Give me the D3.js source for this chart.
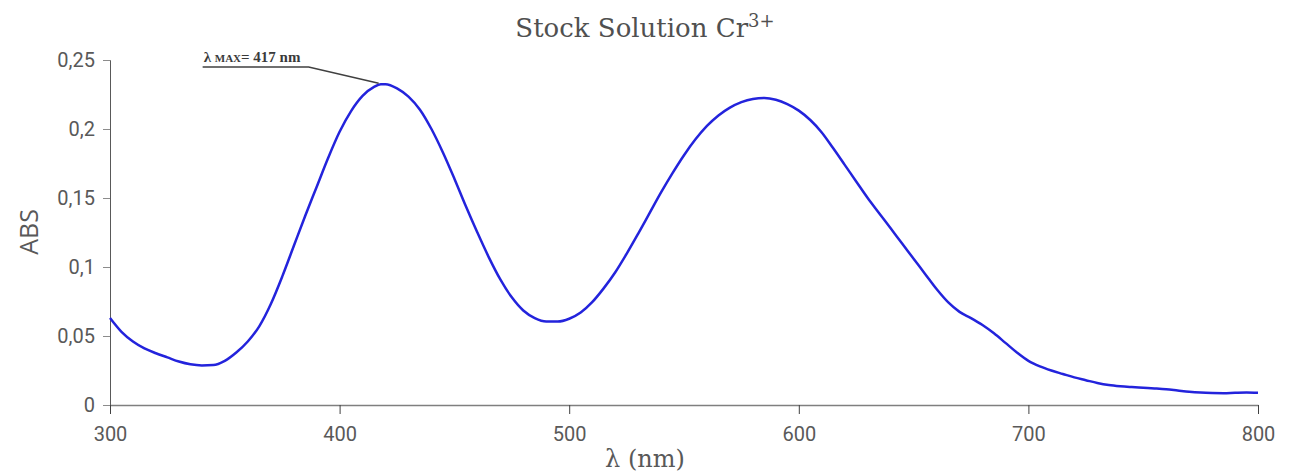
<!DOCTYPE html>
<html>
<head>
<meta charset="utf-8">
<script src="https://cdn.jsdelivr.net/npm/d3@7"></script>
<style>
  body { margin: 0; background: #fff; }
</style>
</head>
<body>
<div class="chart"></div>
<script>
// wavelength (nm) / absorbance
let wavelengths = [300, 305, 310, 315, 320, 325, 330, 335, 340, 345, 350, 355, 360, 365, 370, 375,
  380, 385, 390, 395, 400, 405, 410, 415, 418, 420, 425, 430, 435, 440, 445, 450, 455, 460, 465,
  470, 475, 480, 485, 490, 495, 500, 505, 510, 515, 520, 525, 530, 535, 540, 545, 550, 555, 560,
  565, 570, 575, 580, 585, 590, 595, 600, 605, 610, 615, 620, 625, 630, 635, 640, 645, 650, 655,
  660, 665, 670, 675, 680, 685, 690, 695, 700, 705, 710, 715, 720, 725, 730, 735, 740, 745, 750,
  755, 760, 765, 770, 775, 780, 785, 790, 795, 800];
let absorbance = [0.063, 0.053, 0.046, 0.041, 0.0375, 0.0345, 0.0315, 0.0295, 0.0287, 0.0289, 0.032,
  0.038, 0.046, 0.057, 0.073, 0.093, 0.115, 0.137, 0.158, 0.179, 0.198, 0.213, 0.224, 0.2305, 0.2325,
  0.2325, 0.2295, 0.2235, 0.214, 0.200, 0.183, 0.164, 0.144, 0.125, 0.107, 0.091, 0.078, 0.0685, 0.063,
  0.0605, 0.0605, 0.0625, 0.067, 0.0745, 0.0845, 0.096, 0.1095, 0.124, 0.139, 0.154, 0.168, 0.181, 0.1925,
  0.2022, 0.2098, 0.2155, 0.2195, 0.2218, 0.2225, 0.2212, 0.218, 0.2133, 0.2065, 0.1975, 0.186, 0.174,
  0.162, 0.150, 0.139, 0.128, 0.117, 0.106, 0.095, 0.084, 0.0745, 0.0675, 0.063, 0.058, 0.052, 0.045,
  0.038, 0.032, 0.028, 0.025, 0.0225, 0.020, 0.018, 0.016, 0.0145, 0.0136, 0.013, 0.0125, 0.012,
  0.0114, 0.0105, 0.0096, 0.009, 0.0087, 0.0086, 0.0089, 0.0091, 0.0089];

let xTicks = [300, 400, 500, 600, 700, 800];
let yTicks = [0, 0.05, 0.1, 0.15, 0.2, 0.25];
let lambdaMax = 417;

var margin = {top: 60, right: 32, bottom: 69, left: 110};
var width = 1290 - margin.left - margin.right;
var height = 474 - margin.top - margin.bottom;

var comma = d3.formatLocale({decimal: ',', thousands: '.', grouping: [3], currency: ['', '']});

let svg = d3.select('.chart')
  .append('svg')
  .attr('width', 1290)
  .attr('height', 474);

let g = svg.append('g')
  .attr('transform', `translate(${margin.left}, ${margin.top})`);

let xScale = d3.scaleLinear()
  .domain([300, 800])
  .range([0, width]);

let yScale = d3.scaleLinear()
  .domain([0, 0.25])
  .range([height, 0]);

// y axis
let yAxis = g.append('g')
  .call(d3.axisLeft(yScale).tickValues(yTicks).tickSize(7).tickPadding(8)
    .tickFormat(d => d === 0 ? '0' : comma.format('~g')(d)));
yAxis.select('.domain').attr('stroke', '#595959');
yAxis.selectAll('.tick line').attr('stroke', '#8c8c8c');
yAxis.selectAll('text')
  .style('font-family', 'Roboto, sans-serif')
  .style('font-size', '20px')
  .attr('fill', '#595959');

// x axis
let xAxis = g.append('g')
  .attr('transform', `translate(0, ${height})`)
  .call(d3.axisBottom(xScale).tickValues(xTicks).tickSize(9).tickSizeOuter(0).tickPadding(13));
xAxis.select('.domain').attr('stroke', '#7f7f7f').attr('stroke-width', 1.5);
xAxis.selectAll('.tick line').attr('stroke', '#404040');
xAxis.selectAll('text')
  .style('font-family', 'Roboto, sans-serif')
  .style('font-size', '20px')
  .attr('fill', '#595959');

// spectrum line
let points = wavelengths.map((w, i) => ({w: w, a: absorbance[i]}));
g.append('path')
  .datum(points)
  .attr('fill', 'none')
  .attr('stroke', '#2323dc')
  .attr('stroke-width', 2.5)
  .attr('stroke-linejoin', 'round')
  .attr('d', d3.line()
    .x(d => xScale(d.w))
    .y(d => yScale(d.a))
    .curve(d3.curveMonotoneX));

// lambda max annotation
let peakAbs = absorbance[wavelengths.indexOf(418)];
let px = xScale(lambdaMax), py = yScale(peakAbs);
let labelX = px - 176, labelY = 7;
g.append('path')
  .attr('fill', 'none')
  .attr('stroke', '#404040')
  .attr('stroke-width', 1.5)
  .attr('d', `M${labelX},${labelY}H${labelX + 106}L${px},${py - 1}`);
let ann = g.append('text')
  .attr('x', labelX + 1)
  .attr('y', labelY - 5)
  .style('font-family', '"Liberation Serif", serif')
  .style('font-weight', 'bold')
  .style('font-size', '15px')
  .attr('fill', '#3a3a3a');
ann.append('tspan').text('λ ');
ann.append('tspan').style('font-size', '11px').text('MAX');
ann.append('tspan').text(`= ${lambdaMax} nm`);

// title
let title = svg.append('text')
  .attr('x', 645)
  .attr('y', 37)
  .attr('text-anchor', 'middle')
  .style('font-family', '"DejaVu Serif", serif')
  .style('font-size', '26px')
  .attr('fill', '#505050');
title.append('tspan').text('Stock Solution Cr');
title.append('tspan').attr('dy', -10).style('font-size', '18px').text('3+');

// axis titles
svg.append('text')
  .attr('x', 645)
  .attr('y', 467)
  .attr('text-anchor', 'middle')
  .style('font-family', '"DejaVu Serif", serif')
  .style('font-size', '24px')
  .attr('fill', '#595959')
  .text('λ (nm)');

svg.append('text')
  .attr('transform', 'translate(38, 232) rotate(-90)')
  .attr('text-anchor', 'middle')
  .style('font-family', '"Open Sans", sans-serif')
  .style('font-size', '25px')
  .attr('fill', '#595959')
  .text('ABS');
</script>
</body>
</html>
